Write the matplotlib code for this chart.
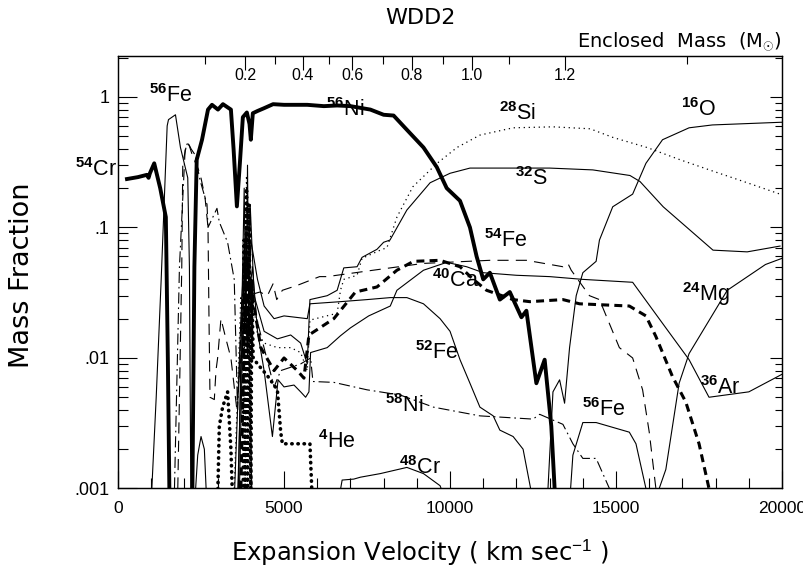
import matplotlib
matplotlib.use("Agg")
import matplotlib.pyplot as plt
from matplotlib.ticker import FixedLocator, NullFormatter, MultipleLocator

plt.rcParams['font.family'] = ['Liberation Sans', 'DejaVu Sans']
plt.rcParams['mathtext.fontset'] = 'custom'
plt.rcParams['mathtext.rm'] = 'Liberation Sans'
plt.rcParams['mathtext.bf'] = 'Liberation Sans:bold'
plt.rcParams['mathtext.it'] = 'Liberation Sans:italic'

# --- data (velocity km/s, mass fraction) ---
cr54_v = [270, 600, 870, 920, 960, 1090, 1270, 1440, 1500, 1560]
cr54_x = [0.235, 0.243, 0.253, 0.24, 0.26, 0.31, 0.2, 0.12, 0.01, 0.0005]

ni56_v = [2230, 2300, 2370, 2530, 2710, 2830, 3010, 3160, 3400, 3480, 3580, 3670, 3760,
          3880, 3960, 4000, 4060, 4200, 4400, 4670, 5000, 5700, 6200, 6600, 7000, 7600,
          8000, 8300, 8700, 9200, 9600, 9900, 10300, 10600, 10800, 11000, 11200, 11500,
          11800, 12150, 12300, 12600, 12850, 13050, 13150, 13200]
ni56_x = [0.0005, 0.05, 0.33, 0.47, 0.8, 0.87, 0.8, 0.88, 0.8, 0.4, 0.145, 0.31, 0.7,
          0.76, 0.62, 0.47, 0.75, 0.78, 0.82, 0.88, 0.87, 0.87, 0.85, 0.86, 0.85, 0.8,
          0.73, 0.72, 0.56, 0.41, 0.29, 0.2, 0.16, 0.1, 0.06, 0.04, 0.045, 0.028,
          0.032, 0.0205, 0.023, 0.0064, 0.0097, 0.003, 0.001, 0.0003]

fe56_v = [1000, 1150, 1300, 1480, 1520, 1730, 1880, 2100, 2150, 2200, 3600, 3700, 3800,
          3850, 3900, 3950, 4050, 13550, 13700, 14000, 14400, 15400, 15600, 15900, 16000]
fe56_x = [0.0008, 0.005, 0.04, 0.6, 0.67, 0.73, 0.41, 0.24, 0.05, 0.0005, 0.0005, 0.01, 0.2,
          0.02, 0.3, 0.01, 0.0005, 0.0005, 0.0018, 0.0032, 0.0032, 0.0027, 0.0022, 0.001, 0.0005]

si28_v = [3500, 3700, 3800, 3870, 3950, 4050, 4200, 4400, 4800, 5200, 5500, 5700, 5780,
          6600, 6700, 6800, 7200, 7350, 7900, 8100, 8400, 8880, 9610, 10210, 10900, 11900,
          13100, 14220, 14900, 15930, 16930, 17920, 18950, 19940]
si28_x = [0.001, 0.03, 0.01, 0.25, 0.02, 0.03, 0.015, 0.013, 0.012, 0.012, 0.011, 0.008,
          0.0195, 0.022, 0.033, 0.04, 0.043, 0.058, 0.067, 0.07, 0.12, 0.205, 0.31, 0.41,
          0.51, 0.58, 0.59, 0.57, 0.49, 0.41, 0.33, 0.27, 0.22, 0.18]

s32_v = [3500, 3700, 3820, 3900, 3980, 4100, 4400, 4800, 5200, 5500, 5700, 5780, 6300, 6600,
         6800, 7200, 7350, 7800, 8000, 8190, 8700, 9400, 10000, 10600, 13000, 14300, 15420,
         15720, 16420, 17920, 18950, 19940]
s32_x = [0.0008, 0.02, 0.08, 0.01, 0.15, 0.03, 0.016, 0.014, 0.015, 0.013, 0.009, 0.028,
         0.030, 0.033, 0.049, 0.05, 0.059, 0.068, 0.077, 0.08, 0.136, 0.22, 0.26, 0.285,
         0.285, 0.276, 0.25, 0.225, 0.144, 0.067, 0.065, 0.072]

ar36_v = [3600, 3750, 3850, 3950, 4050, 4200, 4400, 4650, 4820, 5000, 5300, 5500, 5650, 5750,
          5800, 6300, 6700, 7000, 7550, 8200, 8400, 9200, 9900, 10500, 11000, 12000, 13000,
          14000, 15500, 16500, 17200, 17800, 19000, 20000]
ar36_x = [0.0008, 0.02, 0.1, 0.03, 0.05, 0.016, 0.008, 0.0025, 0.0068, 0.006, 0.0062, 0.0055,
          0.005, 0.0055, 0.011, 0.012, 0.0148, 0.017, 0.021, 0.025, 0.033, 0.047, 0.054,
          0.05, 0.045, 0.043, 0.042, 0.04, 0.038, 0.017, 0.0097, 0.005, 0.0055, 0.0075]

fe52_v = [3650, 3800, 3900, 4000, 4200, 4400, 4700, 5000, 5700, 5780, 6700, 7500, 8200, 8700,
          9200, 9700, 10000, 10300, 10600, 10900, 11300, 11500, 11900, 12200, 12500]
fe52_x = [0.0008, 0.05, 0.01, 0.08, 0.04, 0.025, 0.02, 0.021, 0.02, 0.026, 0.027, 0.028,
          0.029, 0.029, 0.026, 0.020, 0.016, 0.0097, 0.0064, 0.0042, 0.0036, 0.0028, 0.0025,
          0.002, 0.0008]

ca40_v = [3700, 3850, 3950, 4050, 4300, 4700, 5000, 5400, 5600, 5750, 6500, 7150, 7800, 8400,
          8900, 9700, 10300, 10700, 11100, 11900, 12400, 13400, 13900, 15400, 15900, 16200,
          16700, 17100, 17500, 17800, 17900]
ca40_x = [0.001, 0.05, 0.015, 0.03, 0.012, 0.008, 0.01, 0.008, 0.007, 0.015, 0.02, 0.032,
          0.035, 0.047, 0.055, 0.056, 0.05, 0.04, 0.033, 0.028, 0.027, 0.028, 0.026, 0.025,
          0.021, 0.0146, 0.0072, 0.0046, 0.0022, 0.001, 0.0007]

fe54_v = [1800, 1920, 1950, 2080, 2150, 2250, 2470, 2620, 2710, 2740, 2770, 2900, 2950, 3000,
          3100, 3250, 3400, 3570, 3700, 3900, 4270, 4500, 4670, 4780, 4950, 5400, 6070, 6300,
          7680, 9190, 11200, 12300, 13400, 13550, 13650, 14200, 14500, 15100, 15500, 15800,
          16000, 16200]
fe54_x = [0.001, 0.05, 0.31, 0.45, 0.42, 0.35, 0.26, 0.17, 0.1, 0.02, 0.005, 0.0048, 0.008,
          0.01, 0.02, 0.014, 0.01, 0.0042, 0.01, 0.03, 0.032, 0.03, 0.037, 0.028, 0.033,
          0.036, 0.042, 0.042, 0.047, 0.053, 0.056, 0.056, 0.05, 0.053, 0.047, 0.030, 0.028,
          0.012, 0.01, 0.0057, 0.0027, 0.001]

ni58_v = [1700, 1850, 2020, 2100, 2200, 2320, 2470, 2680, 2710, 2980, 3050, 3300, 3500, 3600,
          3750, 3900, 4000, 4300, 4700, 4900, 5500, 5800, 5870, 6500, 7500, 8500, 9500,
          10900, 12500, 12700, 13400, 13700, 14000, 14400, 14800]
ni58_x = [0.001, 0.05, 0.39, 0.45, 0.4, 0.36, 0.23, 0.15, 0.1, 0.14, 0.11, 0.077, 0.04, 0.004,
          0.03, 0.05, 0.03, 0.015, 0.006, 0.008, 0.009, 0.01, 0.0066, 0.0065, 0.0057, 0.0052,
          0.0042, 0.0036, 0.0034, 0.0037, 0.0031, 0.0022, 0.0017, 0.0017, 0.001]

he4_v = [3000, 3050, 3150, 3300, 3400, 3450, 3770, 3800, 3830, 3870, 3900, 3950, 4000, 4030,
         4070, 4200, 4500, 4800, 4900, 4950, 5780, 5850]
he4_x = [0.0008, 0.003, 0.0042, 0.0055, 0.002, 0.0008, 0.0008, 0.08, 0.0008, 0.2, 0.0008,
         0.15, 0.0008, 0.04, 0.01, 0.009, 0.0073, 0.0057, 0.0027, 0.0022, 0.0022, 0.0008]

o16_v = [12950, 13100, 13300, 13450, 13600, 13800, 14000, 14400, 14500, 14900, 15500, 15900,
         16400, 17200, 17900, 20000]
o16_x = [0.001, 0.0055, 0.0068, 0.0045, 0.012, 0.03, 0.045, 0.055, 0.08, 0.144, 0.18, 0.31,
         0.47, 0.58, 0.61, 0.64]

mg24_v = [16300, 16500, 16900, 17200, 18350, 19500, 20000]
mg24_x = [0.001, 0.0014, 0.0064, 0.0108, 0.033, 0.052, 0.058]

cr48_v = [2300, 2400, 2500, 2600, 2680, 6600, 6750, 7100, 7300, 7900, 8700, 9200, 9700, 9800]
cr48_x = [0.0007, 0.0018, 0.0025, 0.002, 0.0007, 0.0007, 0.00116, 0.00118, 0.00122, 0.0013,
          0.00145, 0.0013, 0.00105, 0.0009]

# enclosed-mass ticks on the top axis, placed at the velocity they sit over
mass_major_vel = [3825, 5572, 7060, 8855, 10663, 13464]
mass_major_lab = ['0.2', '0.4', '0.6', '0.8', '1.0', '1.2']
mass_minor_vel = [2620, 4729, 6355, 7982, 9789, 11777, 17139]

fig = plt.figure(figsize=(8.04, 5.74), dpi=100)
ax = fig.add_axes([0.1468, 0.149, 0.8259, 0.7535])

thin = 0.8
ax.plot(cr54_v, cr54_x, color='k', lw=2.8, solid_joinstyle='round')
ax.plot(ni56_v, ni56_x, color='k', lw=2.8, solid_joinstyle='round')
ax.plot(fe56_v, fe56_x, color='k', lw=thin)
ax.plot(si28_v, si28_x, color='k', lw=0.9, ls=(0, (1, 3)))
ax.plot(s32_v, s32_x, color='k', lw=thin)
ax.plot(ar36_v, ar36_x, color='k', lw=thin)
ax.plot(fe52_v, fe52_x, color='k', lw=thin)
ax.plot(ca40_v, ca40_x, color='k', lw=2.2, ls=(0, (2.6, 1.7)))
ax.plot(fe54_v, fe54_x, color='k', lw=thin, ls=(0, (10, 6.5)))
ax.plot(ni58_v, ni58_x, color='k', lw=thin, ls=(0, (10, 3.5, 1.5, 3.5)))
ax.plot(he4_v, he4_x, color='k', lw=2.6, ls=(0, (0.1, 1.6)), dash_capstyle='round')
ax.plot(o16_v, o16_x, color='k', lw=thin)
ax.plot(mg24_v, mg24_x, color='k', lw=thin)
ax.plot(cr48_v, cr48_x, color='k', lw=thin)

ax.set_yscale('log')
ax.set_xlim(0, 20000)
ax.set_ylim(1e-3, 2.06)

ax.set_yticks([1e-3, 1e-2, 1e-1, 1])
ax.set_yticklabels(['.001', '.01', '.1', '1'])
ax.yaxis.set_minor_formatter(NullFormatter())
ax.set_xticks([0, 5000, 10000, 15000, 20000])
ax.xaxis.set_minor_locator(MultipleLocator(1000))
ax.tick_params(axis='y', which='major', direction='in', length=14, width=0.8, pad=6,
               labelsize=13)
ax.tick_params(axis='y', which='minor', direction='in', length=7, width=0.8)
ax.tick_params(axis='x', which='major', direction='in', length=12, width=0.8, pad=9,
               labelsize=12.5)
ax.tick_params(axis='x', which='minor', direction='in', length=7, width=0.8)
for s in ax.spines.values():
    s.set_linewidth(0.9)

# right-side ticks (shorter, no labels)
axr = ax.twinx()
axr.set_yscale('log')
axr.set_ylim(1e-3, 2.06)
axr.set_yticks([1e-3, 1e-2, 1e-1, 1])
axr.yaxis.set_major_formatter(NullFormatter())
axr.yaxis.set_minor_formatter(NullFormatter())
axr.tick_params(axis='y', which='major', direction='in', length=9, width=0.8)
axr.tick_params(axis='y', which='minor', direction='in', length=5, width=0.8)

# top axis: enclosed mass
axt = ax.twiny()
axt.set_xlim(0, 20000)
axt.xaxis.set_major_locator(FixedLocator(mass_major_vel))
axt.xaxis.set_minor_locator(FixedLocator(mass_minor_vel))
axt.xaxis.set_major_formatter(NullFormatter())
axt.tick_params(axis='x', which='major', direction='in', length=10, width=0.8)
axt.tick_params(axis='x', which='minor', direction='in', length=6, width=0.8)
for v, lab in zip(mass_major_vel, mass_major_lab):
    ax.text(v, 0.955, lab, transform=ax.get_xaxis_transform(), ha='center', va='center',
            fontsize=11.5)

# isotope labels
lab_kw = dict(ha='center', va='center', fontsize=15.5)
ax.text(1600, 1.03, r'$^{\mathbf{56}}$Fe', **lab_kw)
ax.text(-660, 0.28, r'$^{\mathbf{54}}$Cr', **lab_kw)
ax.text(6840, 0.80, r'$^{\mathbf{56}}$Ni', **lab_kw)
ax.text(12020, 0.75, r'$^{\mathbf{28}}$Si', **lab_kw)
ax.text(17500, 0.80, r'$^{\mathbf{16}}$O', **lab_kw)
ax.text(12440, 0.235, r'$^{\mathbf{32}}$S', **lab_kw)
ax.text(11690, 0.079, r'$^{\mathbf{54}}$Fe', **lab_kw)
ax.text(10150, 0.039, r'$^{\mathbf{40}}$Ca', **lab_kw)
ax.text(17710, 0.031, r'$^{\mathbf{24}}$Mg', **lab_kw)
ax.text(9610, 0.011, r'$^{\mathbf{52}}$Fe', **lab_kw)
ax.text(18130, 0.0059, r'$^{\mathbf{36}}$Ar', **lab_kw)
ax.text(8610, 0.0043, r'$^{\mathbf{58}}$Ni', **lab_kw)
ax.text(14640, 0.0040, r'$^{\mathbf{56}}$Fe', **lab_kw)
ax.text(6600, 0.0023, r'$^{\mathbf{4}}$He', **lab_kw)
ax.text(9100, 0.00145, r'$^{\mathbf{48}}$Cr', **lab_kw)

fig.text(0.5224, 0.9686, 'WDD2', ha='center', va='center', fontsize=16,
         family=['DejaVu Sans'])
fig.text(0.9726, 0.9286, r'Enclosed  Mass  (M$_{\odot}$)', ha='right', va='center',
         fontsize=14, family=['DejaVu Sans'])
fig.text(0.5224, 0.0366, r'Expansion Velocity ( km sec$^{-1}$ )', ha='center',
         va='center', fontsize=17.5, family=['DejaVu Sans'])
fig.text(0.0274, 0.521, 'Mass Fraction', ha='center', va='center', rotation=90,
         fontsize=19.5, family=['DejaVu Sans'])

fig.savefig('out.png', dpi=100)
